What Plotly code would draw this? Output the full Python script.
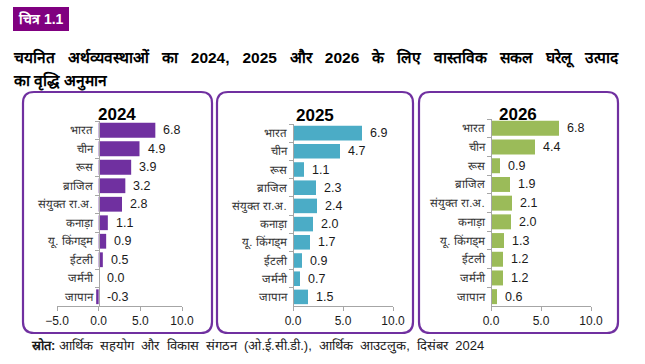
import plotly.graph_objects as go

W, H = 645, 364

countries = ["भारत", "चीन", "रूस", "ब्राजिल", "संयुक्त रा.अ.", "कनाड़ा",
             "यू. किंगड्म", "ईटली", "जर्मनी", "जापान"]
years = ["2024", "2025", "2026"]
growth_2024 = [6.8, 4.9, 3.9, 3.2, 2.8, 1.1, 0.9, 0.5, 0.0, -0.3]
growth_2025 = [6.9, 4.7, 1.1, 2.3, 2.4, 2.0, 1.7, 0.9, 0.7, 1.5]
growth_2026 = [6.8, 4.4, 0.9, 1.9, 2.1, 2.0, 1.3, 1.2, 1.2, 0.6]
series = [growth_2024, growth_2025, growth_2026]
x_ranges = [[-5, 10], [0, 10], [0, 10]]
x_ticks = [[-5, 0, 5, 10], [0, 5, 10], [0, 5, 10]]
colors = ["#7030A0", "#4BACC6", "#9BBB59"]

title_line1 = "चयनित अर्थव्यवस्थाओं का 2024, 2025 और 2026 के लिए वास्तविक सकल घरेलू उत्पाद"
title_line2 = "का वृद्धि अनुमान"
badge = "चित्र 1.1"
source_label = "स्रोत:"
source_text = "आर्थिक सहयोग और विकास संगठन (ओ.ई.सी.डी.), आर्थिक आउटलुक, दिसंबर 2024"

FONT = "Liberation Sans, Arial, sans-serif"

def px(x):
    return x / W

def py(y):
    return 1 - y / H

xdom_px = [(57, 182), (293, 393), (491, 591)]
ydom_px = [(121, 306), (124, 306), (119, 306)]
zero_px = [99, 293, 491]
panels_px = [(23, 212), (217, 413), (419, 618)]
panel_title_px = [(117, 114), (315, 115), (518, 114)]

fig = go.Figure()
annotations = []
shapes = []

for i, vals in enumerate(series):
    sfx = "" if i == 0 else str(i + 1)
    fig.add_trace(go.Bar(
        x=vals, y=countries, orientation="h",
        marker=dict(color=colors[i], line=dict(width=0)),
        xaxis="x" + sfx, yaxis="y" + sfx, hoverinfo="x+y",
        showlegend=False,
    ))
    for c, v in zip(countries, vals):
        annotations.append(dict(
            x=max(v, 0), y=c, xref="x" + sfx, yref="y" + sfx,
            text=f"{v:.1f}", showarrow=False, xanchor="left", xshift=6,
            font=dict(family=FONT, size=12.5, color="#1a1a1a"),
        ))
    xa = dict(
        domain=[px(xdom_px[i][0]), px(xdom_px[i][1])],
        range=x_ranges[i], tickvals=x_ticks[i], tickformat=".1f",
        showgrid=False, zeroline=False, showline=True, linecolor="#A6A6A6",
        linewidth=1, ticks="outside", ticklen=4, tickcolor="#A6A6A6",
        tickfont=dict(family=FONT, size=12, color="#1a1a1a"),
        anchor="y" + sfx, fixedrange=True, automargin=False,
    )
    ya = dict(
        domain=[py(ydom_px[i][1]), py(ydom_px[i][0])],
        autorange="reversed", type="category",
        showgrid=False, zeroline=False, showline=True, linecolor="#A6A6A6",
        linewidth=1, ticks="outside", ticklen=4, tickcolor="#A6A6A6",
        tickson="boundaries", ticklabelstandoff=4,
        tickfont=dict(family=FONT, size=11.5, color="#333333"),
        anchor="free", position=px(zero_px[i]), fixedrange=True,
        automargin=False,
    )
    fig.layout["xaxis" + sfx] = xa
    fig.layout["yaxis" + sfx] = ya

    annotations.append(dict(
        x=px(panel_title_px[i][0]), y=py(panel_title_px[i][1]),
        xref="paper", yref="paper", text=f"<b>{years[i]}</b>", showarrow=False,
        xanchor="center", yanchor="middle",
        font=dict(family=FONT, size=17, color="#000000"),
    ))

    l, r = panels_px[i]
    t, b = 92, 333
    rad = 11
    def P(x, y):
        return f"{px(x):.5f},{py(y):.5f}"
    path = (f"M {P(l + rad, t)} L {P(r - rad, t)} Q {P(r, t)} {P(r, t + rad)} "
            f"L {P(r, b - rad)} Q {P(r, b)} {P(r - rad, b)} "
            f"L {P(l + rad, b)} Q {P(l, b)} {P(l, b - rad)} "
            f"L {P(l, t + rad)} Q {P(l, t)} {P(l + rad, t)} Z")
    shapes.append(dict(type="path", path=path, xref="paper", yref="paper",
                       line=dict(color="#7030A0", width=2.2), fillcolor="rgba(0,0,0,0)",
                       layer="above"))

shapes.append(dict(type="rect", xref="paper", yref="paper",
                   x0=px(13), x1=px(69), y0=py(31), y1=py(7),
                   fillcolor="#800080", line=dict(width=0), layer="below"))
annotations.append(dict(x=px(41), y=py(19), xref="paper", yref="paper",
                        text=f"<b>{badge}</b>", showarrow=False,
                        xanchor="center", yanchor="middle",
                        font=dict(family=FONT, size=14, color="#FFFFFF")))

gap = " " + "&nbsp;" * 2
annotations.append(dict(x=px(11), y=py(58), xref="paper", yref="paper",
                        text="<b>" + gap.join(title_line1.split(" ")) + "</b>",
                        showarrow=False, xanchor="left", yanchor="middle",
                        font=dict(family=FONT, size=15.5, color="#000000")))
annotations.append(dict(x=px(11), y=py(81), xref="paper", yref="paper",
                        text=f"<b>{title_line2}</b>", showarrow=False,
                        xanchor="left", yanchor="middle",
                        font=dict(family=FONT, size=15.5, color="#000000")))
sgap = " " + "&nbsp;"
annotations.append(dict(x=px(29), y=py(346), xref="paper", yref="paper",
                        text=f"<b>{source_label}</b> " + sgap.join(source_text.split(" ")),
                        showarrow=False, xanchor="left", yanchor="middle",
                        font=dict(family=FONT, size=13, color="#1a1a1a")))

fig.update_layout(
    width=W, height=H, margin=dict(l=0, r=0, t=0, b=0, autoexpand=False),
    paper_bgcolor="white", plot_bgcolor="white",
    bargap=0.2, annotations=annotations, shapes=shapes,
    showlegend=False,
)

fig.write_html("out.html", config={"displayModeBar": False},
               post_script="document.body.style.margin='0';document.body.style.overflow='hidden';")
